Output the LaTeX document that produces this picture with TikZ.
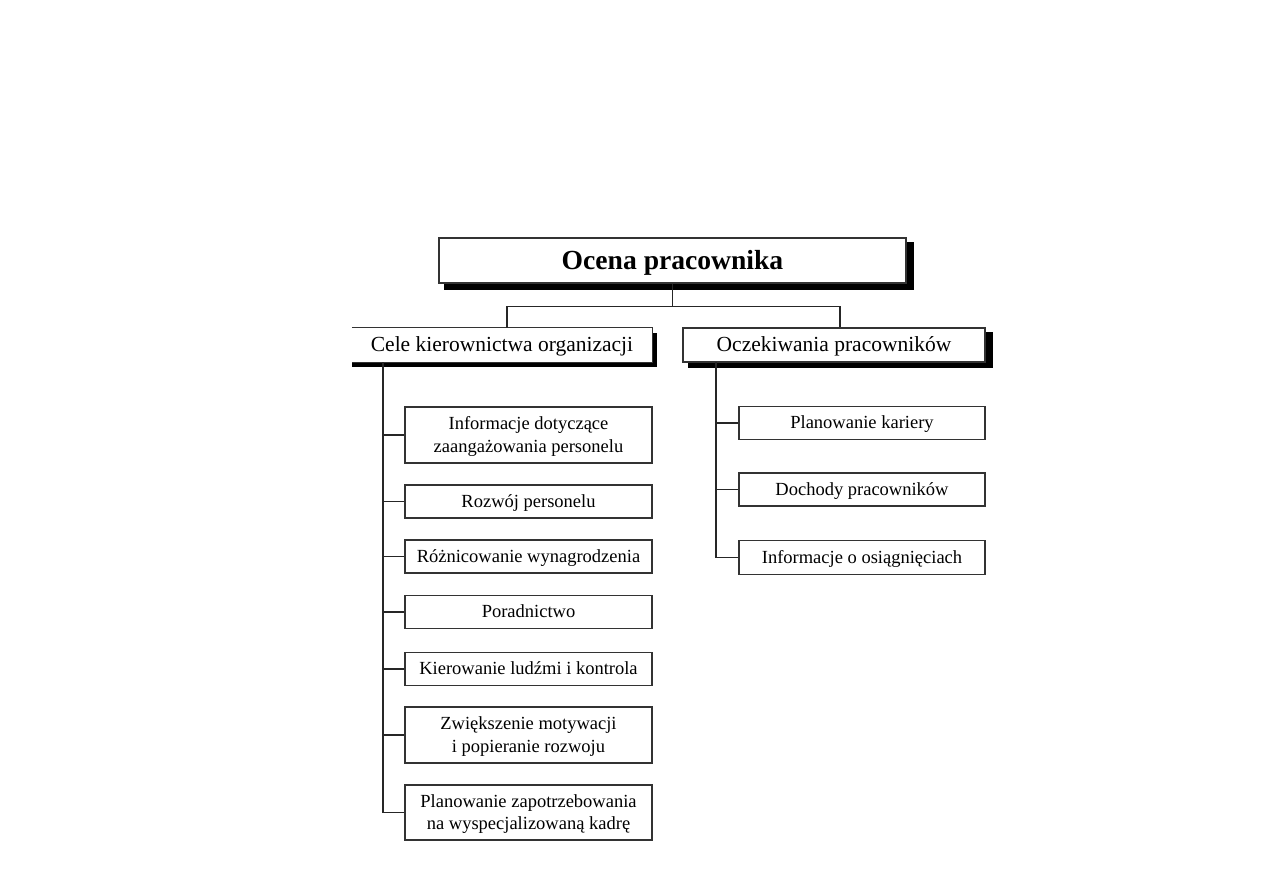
\documentclass[tikz,border=0pt]{standalone}
\usepackage{fontspec}
\setmainfont{Liberation Serif}
\usetikzlibrary{calc,backgrounds}
\begin{document}
\begin{tikzpicture}[x=1pt,y=-1pt,
  line/.style={line width=1.1pt,black!85},
  box/.style={draw=black!80,line width=1.2pt,fill=white,inner sep=0pt,align=center},
  childbox/.style={box,minimum width=247pt,text depth=1pt,font=\fontsize{18.5}{22.5}\selectfont},
  levelbox/.style={inner sep=0pt,fill=white,minimum height=34pt,text depth=1pt,font=\fontsize{21.5}{24}\selectfont},
  shade/.style={fill=black}]
\useasboundingbox (0,0) rectangle (1263,893);

% title
\node[box,minimum width=467pt,minimum height=45pt,text depth=1pt,font=\fontsize{27.6}{30}\bfseries\selectfont] (T) at (672.5,260.5) {Ocena pracownika};
% level 2
\node[levelbox,minimum width=300pt] (L) at (502,345) {Cele kierownictwa organizacji};
\node[levelbox,minimum width=302pt,draw=black!80,line width=1.2pt] (R) at (834,345) {Oczekiwania pracowników};
\draw[black!80,line width=1.2pt] (L.north west) -- (L.north east) -- (L.south east) -- (L.south west);

\begin{scope}[on background layer]
\fill[shade] ($(T.south west)+(6,0)$) rectangle ($(T.north east)+(7,5)$);
\fill[shade] ($(T.south west)+(6,0)$) rectangle ($(T.south east)+(7,6)$);
\fill[shade] ($(L.south west)+(0,0)$) rectangle ($(L.south east)+(5,5)$);
\fill[shade] ($(L.north east)+(0,5)$) rectangle ($(L.south east)+(5,5)$);
\fill[shade] ($(R.south west)+(6,0)$) rectangle ($(R.south east)+(7,5)$);
\fill[shade] ($(R.north east)+(0,5)$) rectangle ($(R.south east)+(7,5)$);
\end{scope}

% left children
\node[childbox,minimum height=56pt] (c1) at (528.5,435) {Informacje dotyczące\\zaangażowania personelu};
\node[childbox,minimum height=33pt] (c2) at (528.5,501.5) {Rozwój personelu};
\node[childbox,minimum height=33pt] (c3) at (528.5,556.5) {Różnicowanie wynagrodzenia};
\node[childbox,minimum height=33pt] (c4) at (528.5,612) {Poradnictwo};
\node[childbox,minimum height=33pt] (c5) at (528.5,669) {Kierowanie ludźmi i kontrola};
\node[childbox,minimum height=56pt] (c6) at (528.5,735) {Zwiększenie motywacji\\i popieranie rozwoju};
\node[childbox,minimum height=55pt] (c7) at (528.5,812.5) {Planowanie zapotrzebowania\\na wyspecjalizowaną kadrę};

% right children
\node[childbox,minimum width=246pt,minimum height=33pt] (r1) at (862,423) {Planowanie kariery};
\node[childbox,minimum width=246pt,minimum height=33pt] (r2) at (862,489.5) {Dochody pracowników};
\node[childbox,minimum width=246pt,minimum height=34pt] (r3) at (862,557.5) {Informacje o osiągnięciach};

% connectors top
\coordinate (tj) at ($(T.south)+(0,23)$);
\draw[line] (T.south) -- (tj);
\draw[line] (tj) -| ([xshift=5pt]L.north);
\draw[line] (tj) -| ([xshift=6pt]R.north);

% spines
\coordinate (ls) at (383,362);
\coordinate (rs) at (716,362);
\draw[line] (ls) |- (c7.west);
\foreach \n in {c1,c2,c3,c4,c5,c6} \draw[line] (ls |- \n.west) -- (\n.west);
\draw[line] (rs) |- (r3.west);
\foreach \n in {r1,r2} \draw[line] (rs |- \n.west) -- (\n.west);
\end{tikzpicture}
\end{document}
